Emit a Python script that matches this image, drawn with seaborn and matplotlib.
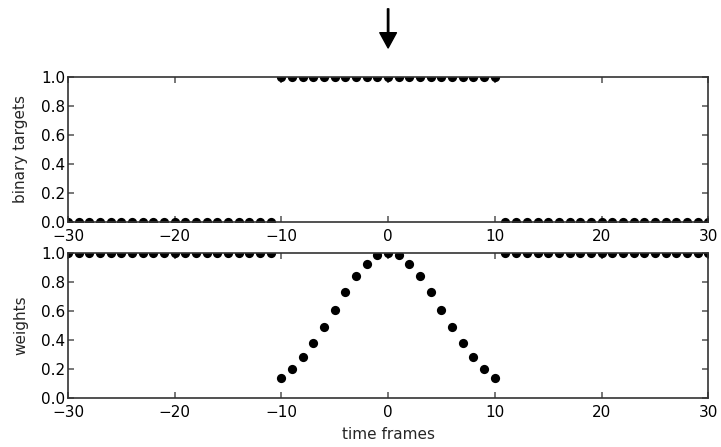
import numpy as np
import pandas as pd
import matplotlib
matplotlib.use("Agg")
import matplotlib.pyplot as plt
import seaborn as sns

# ── data ─────────────────────────────────────────────
frames = list(range(-30, 31))
targets = [0] * 20 + [1] * 21 + [0] * 20
center_weights = [0.136, 0.20, 0.28, 0.377, 0.488, 0.61, 0.73, 0.84, 0.926, 0.986,
                  1.0,
                  0.986, 0.926, 0.84, 0.73, 0.61, 0.488, 0.377, 0.28, 0.20, 0.136]
weights = [1.0] * 20 + center_weights + [1.0] * 20

df = pd.DataFrame({"frame": frames, "target": targets, "weight": weights})

# ── style ────────────────────────────────────────────
sns.set_theme(style="white")
plt.rcParams.update({
    "font.family": ["DejaVu Sans"],
    "font.size": 11,
    "xtick.direction": "in",
    "ytick.direction": "in",
    "xtick.top": True,
    "ytick.right": True,
    "xtick.bottom": True,
    "ytick.left": True,
    "xtick.major.size": 4,
    "ytick.major.size": 4,
    "xtick.major.pad": 5,
    "ytick.major.pad": 2,
    "axes.edgecolor": "#333333",
    "axes.linewidth": 1.2,
    "xtick.color": "#666666",
    "ytick.color": "#666666",
    "xtick.labelcolor": "black",
    "ytick.labelcolor": "black",
})

fig = plt.figure(figsize=(7.21, 4.47), dpi=100)
ax1 = fig.add_axes([0.0943, 0.5034, 0.888, 0.3244])
ax2 = fig.add_axes([0.0943, 0.1096, 0.888, 0.3244])

for ax, col, lab in [(ax1, "target", "binary targets"), (ax2, "weight", "weights")]:
    sns.scatterplot(data=df, x="frame", y=col, ax=ax, color="black",
                    s=44, edgecolor="black", linewidth=0, clip_on=True)
    ax.set_xlim(-30, 30)
    ax.set_ylim(0, 1)
    ax.set_xticks([-30, -20, -10, 0, 10, 20, 30])
    ax.set_yticks([0.0, 0.2, 0.4, 0.6, 0.8, 1.0])
    ax.set_yticklabels(["0.0", "0.2", "0.4", "0.6", "0.8", "1.0"])
    ax.tick_params(labelsize=11)
    ax.set_ylabel(lab, fontsize=11, labelpad=9)
    ax.set_xlabel("")
    for s in ax.spines.values():
        s.set_visible(True)

ax2.set_xlabel("time frames", fontsize=11, labelpad=5)

# arrow marking the current frame
ax1.annotate("", xy=(0, 1.2), xytext=(0, 1.47), xycoords="data",
             arrowprops=dict(facecolor="black", edgecolor="black",
                             width=1.0, headwidth=12, headlength=11),
             annotation_clip=False)

fig.savefig("out.png", dpi=100)
